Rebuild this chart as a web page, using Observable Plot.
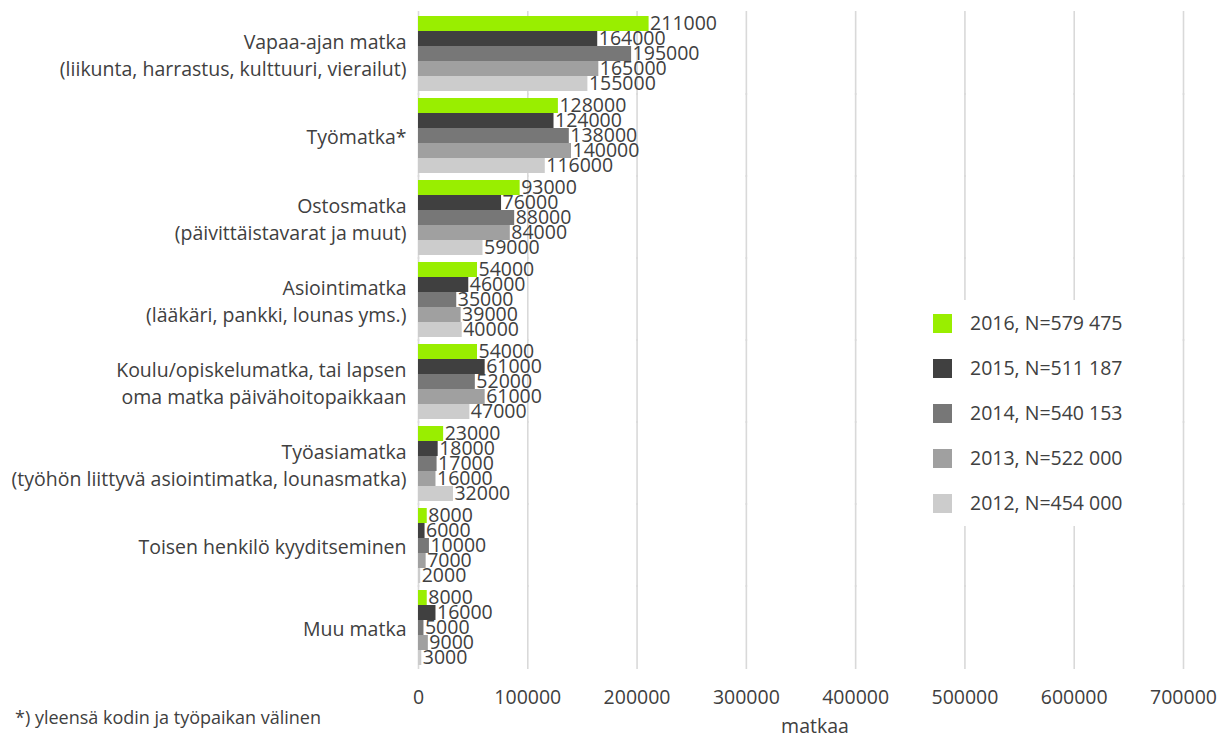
<!DOCTYPE html>
<html>
<head>
<meta charset="utf-8">
<script src="https://cdn.jsdelivr.net/npm/d3@7"></script>
<script src="https://cdn.jsdelivr.net/npm/@observablehq/plot@0.6"></script>
<style>
  html, body { margin: 0; padding: 0; background: #fff; }
  #wrap { position: relative; width: 1219px; height: 740px; font-family: "Open Sans", sans-serif; color: #404040; overflow: hidden; }
  #legend { position: absolute; left: 918px; top: 300px; width: 255px; height: 226px; background: #fff; }
  .item { position: absolute; left: 15px; font-size: 19.5px; line-height: 24px; white-space: nowrap; }
  .sw { position: absolute; left: 0; top: 0; width: 19px; height: 19px; }
  .lt { position: absolute; left: 37px; top: -3px; }
  #foot { position: absolute; left: 15px; top: 706px; font-size: 18px; line-height: 22px; white-space: nowrap; }
  #xlab { position: absolute; left: 815px; top: 713px; transform: translateX(-50%); font-size: 19.5px; line-height: 26px; }
</style>
</head>
<body>
<div id="wrap"></div>
<script>
const categories = [
  "Vapaa-ajan matka\n(liikunta, harrastus, kulttuuri, vierailut)",
  "Työmatka*",
  "Ostosmatka\n(päivittäistavarat ja muut)",
  "Asiointimatka\n(lääkäri, pankki, lounas yms.)",
  "Koulu/opiskelumatka, tai lapsen\noma matka päivähoitopaikkaan",
  "Työasiamatka\n(työhön liittyvä asiointimatka, lounasmatka)",
  "Toisen henkilö kyyditseminen",
  "Muu matka"
];
const series = ["2016", "2015", "2014", "2013", "2012"];
const seriesLabels = ["2016, N=579 475", "2015, N=511 187", "2014, N=540 153", "2013, N=522 000", "2012, N=454 000"];
const colors = ["#99ee00", "#404040", "#777777", "#a0a0a0", "#cccccc"];
const values2016 = [211000, 128000, 93000, 54000, 54000, 23000, 8000, 8000];
const values2015 = [164000, 124000, 76000, 46000, 61000, 18000, 6000, 16000];
const values2014 = [195000, 138000, 88000, 35000, 52000, 17000, 10000, 5000];
const values2013 = [165000, 140000, 84000, 39000, 61000, 16000, 7000, 9000];
const values2012 = [155000, 116000, 59000, 40000, 47000, 32000, 2000, 3000];
const xTicks = [0, 100000, 200000, 300000, 400000, 500000, 600000, 700000];
const xLabel = "matkaa";
const footnote = "*) yleensä kodin ja työpaikan välinen";

const allValues = [values2016, values2015, values2014, values2013, values2012];
const data = [];
categories.forEach((c, i) => {
  series.forEach((s, j) => {
    data.push({category: c, series: s, value: allValues[j][i]});
  });
});

const chart = Plot.plot({
  width: 1219,
  height: 740,
  marginLeft: 418,
  marginRight: 36,
  marginTop: 12,
  marginBottom: 72,
  style: {fontFamily: "Open Sans, sans-serif", color: "#404040", background: "#fff"},
  x: {domain: [0, 700000], axis: null},
  y: {domain: series, padding: 0, axis: null},
  fy: {domain: categories, paddingInner: 0.05, paddingOuter: 0, axis: null},
  color: {domain: series, range: colors},
  marks: [
    Plot.ruleX(xTicks, {x: d => d, stroke: "#d9d9d9", strokeWidth: 1.6, insetTop: -3, insetBottom: -3}),
    Plot.barX(data, {x: "value", y: "series", fy: "category", fill: "series"}),
    Plot.text(data, {x: "value", y: "series", fy: "category", text: d => String(d.value), textAnchor: "start", dx: 1, fontSize: 19.5, fill: "#404040"}),
    Plot.axisFy({anchor: "left", tickSize: 0, tickPadding: 12, fontSize: 19.5, lineHeight: 1.38, label: null, fill: "#404040"}),
    Plot.axisX(xTicks, {tickSize: 0, tickPadding: 24, fontSize: 19.5, tickFormat: d3.format("d"), label: null, fill: "#404040"})
  ]
});

const wrap = document.getElementById("wrap");
wrap.appendChild(chart);

const legend = document.createElement("div");
legend.id = "legend";
seriesLabels.forEach((lab, i) => {
  const it = document.createElement("div");
  it.className = "item";
  it.style.top = (14 + i * 45) + "px";
  const sw = document.createElement("div");
  sw.className = "sw";
  sw.style.background = colors[i];
  const t = document.createElement("div");
  t.className = "lt";
  t.textContent = lab;
  it.appendChild(sw);
  it.appendChild(t);
  legend.appendChild(it);
});
wrap.appendChild(legend);

const f = document.createElement("div");
f.id = "foot";
f.textContent = footnote;
wrap.appendChild(f);

const xl = document.createElement("div");
xl.id = "xlab";
xl.textContent = xLabel;
wrap.appendChild(xl);
</script>
</body>
</html>
